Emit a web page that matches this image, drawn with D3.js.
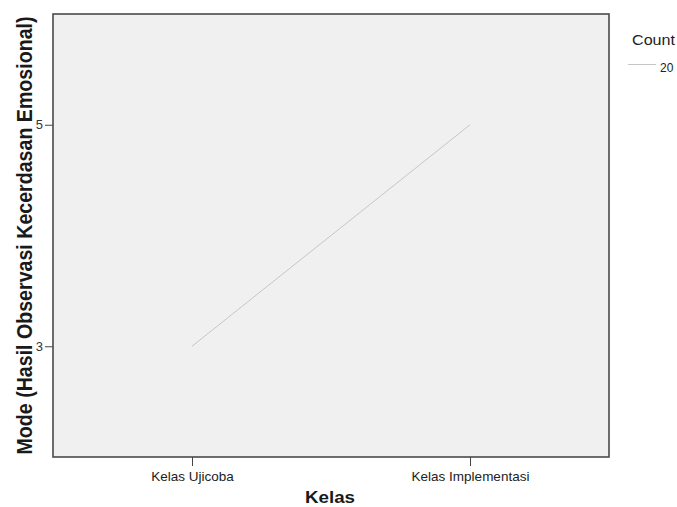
<!DOCTYPE html>
<html>
<head>
<meta charset="utf-8">
<script src="https://cdn.jsdelivr.net/npm/d3@7"></script>
<style>
  body { margin: 0; background: #fff; }
  text { font-family: Arial, "Liberation Sans", sans-serif; }
</style>
</head>
<body>
<script>
let categories = ['Kelas Ujicoba', 'Kelas Implementasi'];
let modeValues = [3, 5];
let yTicks = [3, 5];
let legendLabels = ['20'];

let svg = d3.select('body')
  .append('svg')
  .attr('width', 677)
  .attr('height', 507);

let plotLeft = 53, plotTop = 14, plotRight = 609, plotBottom = 457;
let font = 'Arial, "Liberation Sans", sans-serif';

let x = d3.scalePoint()
  .domain(categories)
  .range([plotLeft, plotRight])
  .padding(0.5);

let y = d3.scaleLinear()
  .domain([2, 6])
  .range([plotBottom, plotTop]);

svg.append('rect')
  .attr('x', plotLeft)
  .attr('y', plotTop)
  .attr('width', plotRight - plotLeft)
  .attr('height', plotBottom - plotTop)
  .attr('fill', '#f0f0f0')
  .attr('stroke', '#4a4a4a')
  .attr('stroke-width', 1.6);

let yAxis = svg.append('g')
  .attr('transform', `translate(${plotLeft},0)`)
  .call(d3.axisLeft(y).tickValues(yTicks).tickSize(8).tickPadding(2).tickFormat(d3.format('d')));
yAxis.select('.domain').remove();
yAxis.selectAll('line').attr('stroke', '#444');
yAxis.selectAll('text')
  .attr('font-size', 13)
  .attr('fill', '#333')
  .attr('font-family', font);

let xAxis = svg.append('g')
  .attr('transform', `translate(0,${plotBottom})`)
  .call(d3.axisBottom(x).tickSize(9).tickPadding(5));
xAxis.select('.domain').remove();
xAxis.selectAll('line').attr('stroke', '#444');
xAxis.selectAll('text')
  .attr('font-size', 13.5)
  .attr('fill', '#222')
  .attr('font-family', font);

let line = d3.line()
  .x((d, i) => x(categories[i]))
  .y(d => y(d));

svg.append('path')
  .datum(modeValues)
  .attr('d', line)
  .attr('fill', 'none')
  .attr('stroke', '#c6c6c6')
  .attr('stroke-width', 1);

svg.append('text')
  .attr('x', (plotLeft + plotRight) / 2 - 1)
  .attr('y', 503)
  .attr('text-anchor', 'middle')
  .attr('font-size', 16)
  .attr('font-weight', 'bold')
  .attr('fill', '#1a1a1a')
  .attr('textLength', 50)
  .attr('lengthAdjust', 'spacingAndGlyphs')
  .text('Kelas');

svg.append('text')
  .attr('transform', `translate(32,${(plotTop + plotBottom) / 2}) scale(1.15,1) rotate(-90)`)
  .attr('text-anchor', 'middle')
  .attr('font-size', 19.5)
  .attr('font-weight', 'bold')
  .attr('fill', '#1a1a1a')
  .attr('textLength', 438)
  .attr('lengthAdjust', 'spacingAndGlyphs')
  .text('Mode (Hasil Observasi Kecerdasan Emosional)');

svg.append('text')
  .attr('x', 632)
  .attr('y', 45)
  .attr('font-size', 15)
  .attr('fill', '#222')
  .attr('textLength', 43)
  .attr('lengthAdjust', 'spacingAndGlyphs')
  .text('Count');

legendLabels.forEach((label, i) => {
  svg.append('line')
    .attr('x1', 628).attr('x2', 656)
    .attr('y1', 64.5 + i * 18).attr('y2', 64.5 + i * 18)
    .attr('stroke', '#c6c6c6');
  svg.append('text')
    .attr('x', 660)
    .attr('y', 72 + i * 18)
    .attr('font-size', 12)
    .attr('fill', '#222')
    .text(label);
});
</script>
</body>
</html>
